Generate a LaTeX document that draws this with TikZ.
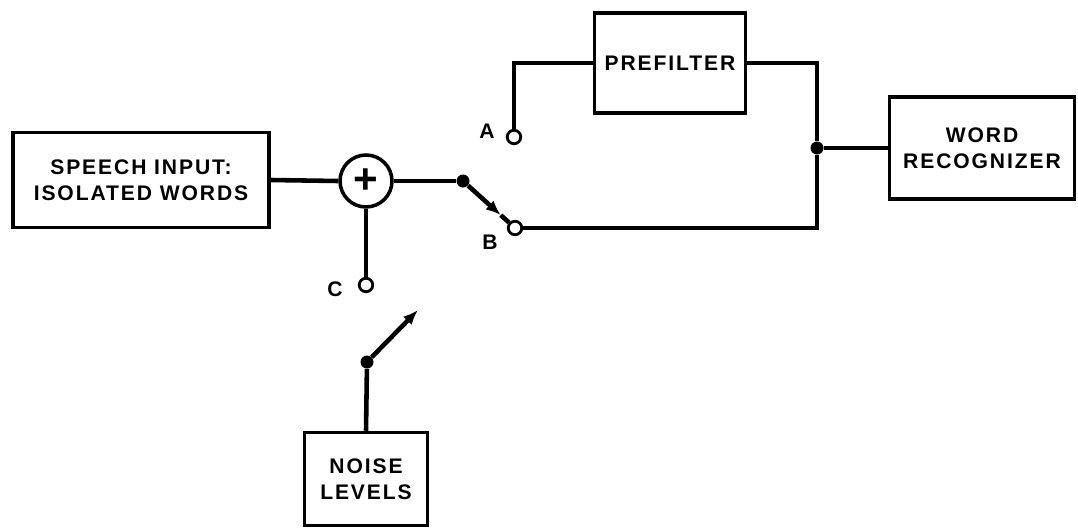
\documentclass[tikz,border=0pt]{standalone}
\usepackage{fontspec}
\setmainfont{Liberation Sans}[LetterSpace=9]
\usetikzlibrary{arrows.meta}

\begin{document}
\begin{tikzpicture}[x=0.02cm,y=-0.02cm,>={Latex[length=3mm,width=2.4mm]},
  blk/.style={draw,line width=2pt,align=center,inner sep=0pt,
    font=\fontsize{12}{14.5}\selectfont\bfseries},
  wire/.style={line width=2.6pt},
  contact/.style={circle,draw,line width=1.6pt,fill=white,inner sep=0pt,minimum size=0.27cm},
  joint/.style={circle,fill,inner sep=0pt,minimum size=0.26cm},
  lbl/.style={font=\fontsize{12}{14}\selectfont\bfseries}]
  \useasboundingbox (0,0) rectangle (1078,528);
  % blocks
  \node[blk,minimum width=5.12cm,minimum height=1.9cm] (speech) at (141,180)
    {SPEECH INPUT:\\ISOLATED WORDS};
  \node[blk,minimum width=3.02cm,minimum height=2cm] (prefilter) at (670,63) {PREFILTER};
  \node[blk,minimum width=3.7cm,minimum height=2.04cm] (wordrec) at (982,148)
    {WORD\\RECOGNIZER};
  \node[blk,minimum width=2.46cm,minimum height=1.86cm] (noise) at (366,479)
    {NOISE\\LEVELS};
  \node[circle,draw,line width=2pt,minimum size=1.04cm,inner sep=0pt,
    font=\fontsize{24}{24}\selectfont\bfseries] (sum) at (366,181) {+};
  % switch points
  \node[joint] (piv) at (463,181) {};
  \node[joint] (junc) at (817,148) {};
  \node[joint] (npiv) at (367,362) {};
  \node[contact] (ca) at (514,137) {};
  \node[contact] (cb) at (515,228) {};
  \node[contact] (cc) at (366,285) {};
  \coordinate (narm) at (418,310);
  \node[lbl] (la) at (487,131) {A};
  \node[lbl] (lb) at (490,242) {B};
  \node[lbl] (lc) at (335,289) {C};
  % wiring
  \draw[wire] (speech.east) -- (sum.west);
  \draw[wire] (sum.east) -- (piv);
  \path (piv) -- (cb) coordinate[pos=0.8] (bhead);
  \draw[wire,->] (piv) -- (bhead);
  \draw[wire] (bhead) -- (cb);
  \draw[wire] (cb.east) -- (cb -| junc) -- (junc);
  \draw[wire] (ca.north) |- (prefilter.west);
  \draw[wire] (prefilter.east) -| (junc);
  \draw[wire] (junc) -- (wordrec.west);
  \draw[wire] (sum.south) -- (cc.north);
  \draw[wire,->] (npiv) -- (narm);
  \draw[wire] (npiv) -- (noise.north);
\end{tikzpicture}
\end{document}
